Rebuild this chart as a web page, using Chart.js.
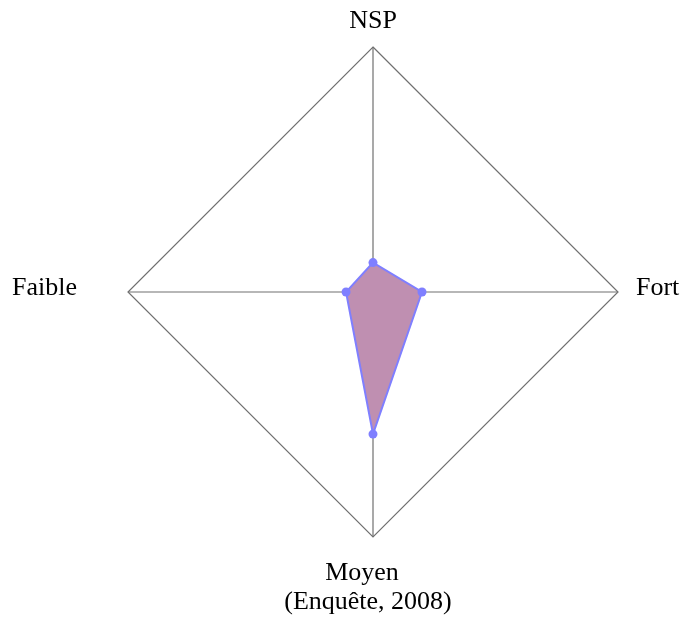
<!DOCTYPE html>
<html>
<head>
<meta charset="utf-8">
<script src="https://cdn.jsdelivr.net/npm/chart.js@4"></script>
<style>
  html, body { margin: 0; padding: 0; background: #fff; }
  #wrap { width: 683px; height: 623px; }
</style>
</head>
<body>
<div id="wrap"><canvas id="myChart"></canvas></div>
<script>
// Axes, clockwise from the top
const categories = ['NSP', 'Fort', ['Moyen', '(Enquête, 2008)'], 'Faible'];
// Share of answers (%)
const values = [12, 20, 58, 11];
const scaleMax = 100;

// where each line of an axis name sits relative to the end of its axis
const labelOffsets = [
    { align: 'center', pos: [[0, -19]] },
    { align: 'left', pos: [[18, 3]] },
    { align: 'center', pos: [[-11, 43], [-5, 72]] },
    { align: 'right', pos: [[-51, 3]] },
];

// draw the axis names ourselves so each can be placed like the original
const axisLabels = {
    id: 'axisLabels',
    afterDraw(chart) {
        const r = chart.scales.r;
        const ctx = chart.ctx;
        ctx.save();
        ctx.font = '26px "Liberation Serif", "Times New Roman", serif';
        ctx.fillStyle = '#000';
        ctx.textBaseline = 'alphabetic';
        chart.data.labels.forEach((lab, i) => {
            const p = r.getPointPosition(i, r.drawingArea);
            const o = labelOffsets[i];
            ctx.textAlign = o.align;
            [].concat(lab).forEach((line, k) => {
                ctx.fillText(line, p.x + o.pos[k][0], p.y + o.pos[k][1]);
            });
        });
        ctx.restore();
    }
};

const ctx = document.getElementById('myChart').getContext('2d');

const radarChart = new Chart(ctx, {
    type: 'radar',
    data: {
        labels: categories,
        datasets: [{
            data: values,
            borderColor: '#7f7fff',
            backgroundColor: '#bf8fb1',
            borderWidth: 2,
            pointRadius: 4.5,
            pointBorderWidth: 0,
            pointBackgroundColor: '#7f7fff',
        }],
    },
    options: {
        responsive: true,
        maintainAspectRatio: false,
        animation: false,
        layout: {
            padding: { left: 128, top: 47, right: 65, bottom: 86 }
        },
        plugins: {
            legend: { display: false },
            tooltip: { enabled: false },
        },
        scales: {
            r: {
                min: 0,
                max: scaleMax,
                ticks: { display: false, stepSize: scaleMax },
                grid: { color: '#707070', lineWidth: 1.2 },
                angleLines: { color: '#707070', lineWidth: 1.2 },
                pointLabels: { display: false },
            }
        }
    },
    plugins: [axisLabels],
});
</script>
</body>
</html>
